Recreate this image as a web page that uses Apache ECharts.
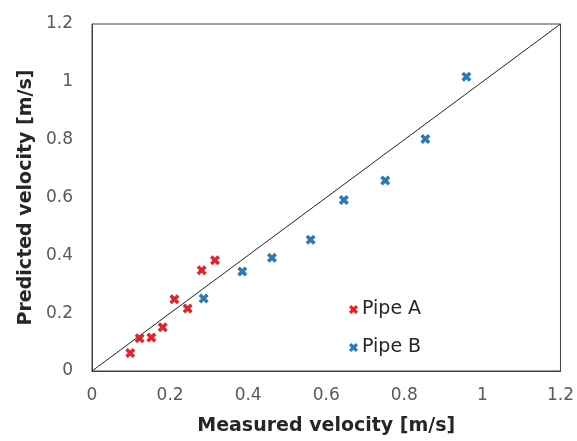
<!DOCTYPE html>
<html><head><meta charset="utf-8">
<script src="https://cdn.jsdelivr.net/npm/echarts@6/dist/echarts.min.js"></script>
<style>html,body{margin:0;padding:0;background:#fff}#c{width:577px;height:441px}</style>
</head><body><div id="c"></div>
<script>
const pipeA = [[0.098,0.062],[0.122,0.113],[0.152,0.116],[0.181,0.151],[0.211,0.248],[0.245,0.216],[0.281,0.348],[0.315,0.383]];
const pipeB = [[0.286,0.251],[0.385,0.344],[0.461,0.392],[0.560,0.454],[0.645,0.591],[0.751,0.659],[0.854,0.802],[0.959,1.018]];
const identityLine = [[0,0],[1.2,1.2]];
const xTitle = 'Measured velocity [m/s]';
const yTitle = 'Predicted velocity [m/s]';
const seriesNames = ['Pipe A','Pipe B'];
const cross = 'path://M0,2.5L2.5,0L5,2.5L7.5,0L10,2.5L7.5,5L10,7.5L7.5,10L5,7.5L2.5,10L0,7.5L2.5,5Z';
const chart = echarts.init(document.getElementById('c'));
const FONT = "'DejaVu Sans'";
const tickFont = {fontFamily:FONT, fontSize:17, color:'#595959'};
const titleFont = {fontFamily:FONT,fontSize:19,fontWeight:'bold',color:'#262626'};
chart.setOption({
  animation:false,
  grid:{left:92,right:14,top:24,bottom:69,show:true,borderColor:'#404040',borderWidth:1},
  xAxis:{type:'value',min:0,max:1.2,interval:0.2,
    name:xTitle,nameLocation:'middle',nameGap:46,nameTextStyle:titleFont,
    axisLine:{show:true,lineStyle:{color:'#404040'}},axisTick:{show:false},splitLine:{show:false},
    axisLabel:Object.assign({margin:16},tickFont)},
  yAxis:{type:'value',min:0,max:1.2,interval:0.2,
    name:yTitle,nameLocation:'middle',nameGap:55,nameTextStyle:titleFont,
    axisLine:{show:true,lineStyle:{color:'#404040'}},axisTick:{show:false},splitLine:{show:false},
    axisLabel:Object.assign({margin:19},tickFont)},
  legend:{orient:'vertical',left:349,top:300,itemGap:19,itemWidth:9,itemHeight:9,padding:0,
    data:[{name:seriesNames[0],icon:cross},{name:seriesNames[1],icon:cross}],
    textStyle:{fontFamily:FONT,fontSize:19,color:'#262626',padding:[0,0,0,-1]}},
  series:[
    {type:'line',data:identityLine,symbol:'none',lineStyle:{color:'#222',width:1},silent:true,z:1},
    {name:seriesNames[0],type:'scatter',data:pipeA,symbol:cross,symbolSize:10,itemStyle:{color:'#e3232a',opacity:1},z:3},
    {name:seriesNames[1],type:'scatter',data:pipeB,symbol:cross,symbolSize:10,itemStyle:{color:'#2a7ab8',opacity:1},z:3}
  ]
});
</script></body></html>
